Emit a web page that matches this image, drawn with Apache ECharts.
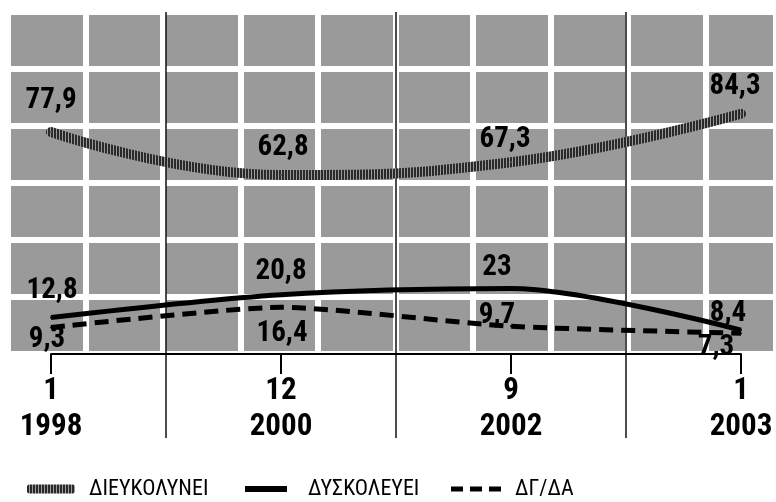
<!DOCTYPE html>
<html>
<head>
<meta charset="utf-8">
<script src="https://cdn.jsdelivr.net/npm/echarts@6/dist/echarts.min.js"></script>
<style>
html,body{margin:0;padding:0;background:#fff;}
#c{width:776px;height:502px;}
</style>
</head>
<body>
<div id="c"></div>
<script>
// ---- data ----
const months = ['1', '12', '9', '1'];
const years = ['1998', '2000', '2002', '2003'];
const seriesNames = ['ΔΙΕΥΚΟΛΥΝΕΙ', 'ΔΥΣΚΟΛΕΥΕΙ', 'ΔΓ/ΔΑ'];
const dieykolynei = [77.9, 62.8, 67.3, 84.3];
const dyskoleyei = [12.8, 20.8, 23, 8.4];
const dgda = [9.3, 16.4, 9.7, 7.3];

// ---- styling / layout ----
const FONT = '"Roboto Condensed", "Open Sans Condensed", "DejaVu Sans Condensed", sans-serif';
const plotLeft = 51, plotRight = 35, plotTop = 12, plotBottom = 148;
const W = 776;
const unit = (W - plotLeft - plotRight) / (months.length - 1);

function hatch() {
  const c = document.createElement('canvas');
  c.width = 3; c.height = 3;
  const g = c.getContext('2d');
  g.fillStyle = '#9a9a9a'; g.fillRect(0, 0, 3, 3);
  g.fillStyle = '#2a2a2a'; g.fillRect(0, 0, 2, 3);
  return { image: c, repeat: 'repeat' };
}
const hatchColor = hatch();

// label offsets (style, relative to point) per series
const offA = [[0, -31], [2, -27], [-6, -22], [-6, -27]];
const offB = [[1, -27], [0, -23], [-14, -21], [-13, -16]];
const offC = [[-4, 12], [1, 26], [-14, -11], [-25, 15]];

function pts(vals, offs) {
  return vals.map((v, i) => ({
    value: [i, v],
    label: { offset: offs[i] }
  }));
}
const labelBase = {
  show: true, position: 'inside', color: '#000',
  fontFamily: FONT, fontWeight: 'bold', fontSize: 29,
  formatter: p => String(p.value[1]).replace('.', ',')
};
const legendText = { fontFamily: FONT, fontSize: 22, color: '#000' };

const option = {
  animation: false,
  backgroundColor: '#fff',
  grid: [
    { left: 8, right: 0, top: plotTop, bottom: plotBottom, show: true, backgroundColor: '#9a9a9a', borderWidth: 0 },
    { left: plotLeft, right: plotRight, top: plotTop, bottom: plotBottom },
    { left: plotLeft + unit / 2, right: plotRight + unit / 2, top: plotTop, bottom: 64 }
  ],
  xAxis: [
    { gridIndex: 0, type: 'value', min: 0, max: W - 8, interval: 77.5, axisLabel: { show: false }, axisLine: { show: false }, axisTick: { show: false },
      splitLine: { show: true, lineStyle: { color: '#fff', width: 6 } } },
    { gridIndex: 1, type: 'value', min: 0, max: months.length - 1, interval: 1,
      axisLine: { show: true, lineStyle: { color: '#000', width: 2 } },
      axisTick: { show: true, length: 20, lineStyle: { color: '#000', width: 2 } },
      splitLine: { show: false },
      axisLabel: { show: true, margin: 19, color: '#000', fontFamily: FONT, fontWeight: 'bold', fontSize: 31, lineHeight: 36,
        formatter: v => months[v] + '\n' + years[v] } },
    { gridIndex: 2, type: 'value', min: 0.5, max: months.length - 1.5, interval: 1,
      axisLabel: { show: false }, axisLine: { show: false }, axisTick: { show: false },
      splitLine: { show: true, lineStyle: { color: '#111', width: 1.5 } } }
  ],
  yAxis: [
    { gridIndex: 0, type: 'value', min: 0, max: 120, interval: 20, axisLabel: { show: false }, axisLine: { show: false }, axisTick: { show: false },
      splitLine: { show: true, lineStyle: { color: '#fff', width: 6 } } },
    { gridIndex: 1, type: 'value', min: 0, max: 120, show: false },
    { gridIndex: 2, type: 'value', min: 0, max: 1, show: false }
  ],
  legend: [
    { left: 22, top: 473, itemWidth: 48, itemHeight: 9, icon: 'roundRect', data: [seriesNames[0]],
      itemStyle: { color: hatchColor }, textStyle: Object.assign({ padding: [0, 0, 0, 9] }, legendText) },
    { left: 240, top: 473, itemWidth: 42, itemHeight: 6, icon: 'rect', data: [seriesNames[1]],
      itemStyle: { color: '#000' }, textStyle: Object.assign({ padding: [0, 0, 0, 16] }, legendText) },
    { left: 446, top: 473, itemWidth: 50, itemHeight: 6, icon: 'path://M0,0h12v5h-12z M19,0h12v5h-12z M38,0h12v5h-12z', data: [seriesNames[2]],
      itemStyle: { color: '#000' }, textStyle: Object.assign({ padding: [0, 0, 0, 9] }, legendText) }
  ],
  series: [
    { name: seriesNames[0], type: 'line', xAxisIndex: 1, yAxisIndex: 1, smooth: 0.45,
      symbol: 'circle', symbolSize: 2, itemStyle: { color: '#555' },
      lineStyle: { color: hatchColor, width: 10, cap: 'round' },
      label: labelBase, data: pts(dieykolynei, offA), z: 3 },
    { name: seriesNames[1], type: 'line', xAxisIndex: 1, yAxisIndex: 1, smooth: 0.3,
      symbol: 'circle', symbolSize: 2, itemStyle: { color: '#000' },
      lineStyle: { color: '#000', width: 5 },
      label: labelBase, data: pts(dyskoleyei, offB), z: 4 },
    { name: seriesNames[2], type: 'line', xAxisIndex: 1, yAxisIndex: 1, smooth: 0.2,
      symbol: 'circle', symbolSize: 2, itemStyle: { color: '#000' },
      lineStyle: { color: '#000', width: 5, type: [14, 8] },
      label: labelBase, data: pts(dgda, offC), z: 4 }
  ]
};

const chart = echarts.init(document.getElementById('c'), null, { renderer: 'canvas' });
chart.setOption(option);
</script>
</body>
</html>
